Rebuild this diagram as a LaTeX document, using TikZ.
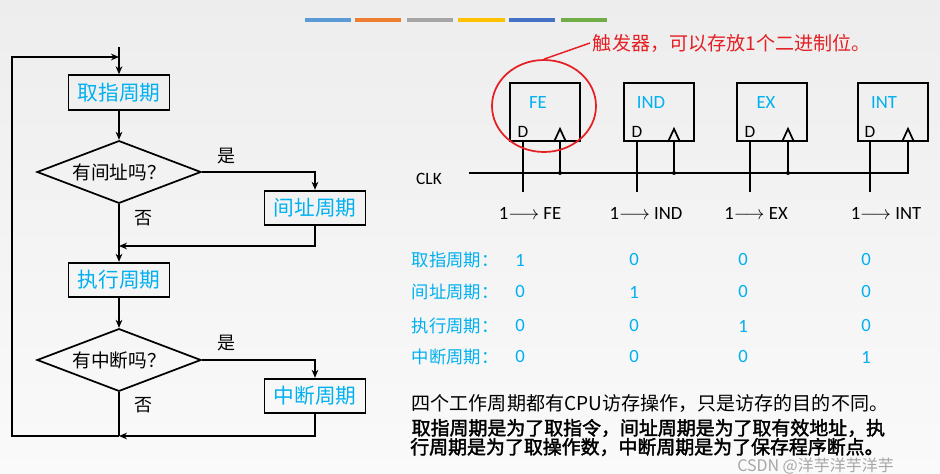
\documentclass[tikz,border=0pt]{standalone}
\usepackage{fontspec}
\setmainfont{Carlito}
\newfontfamily\cjk{Noto Sans CJK SC}
\newfontfamily\cjkbold[FakeBold=2]{Noto Sans CJK SC}
\usetikzlibrary{shapes.geometric,arrows.meta}
\definecolor{cyantext}{RGB}{0,176,240}
\definecolor{notered}{RGB}{228,32,36}
\definecolor{barA}{RGB}{91,155,213}
\definecolor{barB}{RGB}{237,125,49}
\definecolor{barC}{RGB}{165,165,165}
\definecolor{barD}{RGB}{255,192,0}
\definecolor{barE}{RGB}{68,114,196}
\definecolor{barF}{RGB}{112,173,71}
\newcommand\fsz[1]{\fontsize{#1}{#1}\selectfont}

\begin{document}
\begin{tikzpicture}[x=0.75pt,y=-0.75pt,>={Stealth[length=6pt,width=5pt]},
cyclebox/.style={draw, line width=1.3pt, minimum width=75.75pt, minimum height=26pt, inner sep=0pt, text=cyantext, font=\cjk\fsz{15.5}},
query/.style={diamond, aspect=2.6, draw, line width=1.3pt, minimum width=123pt, minimum height=47pt, inner sep=0pt, font=\cjk\fsz{14}},
yesno/.style={font=\cjk\fsz{13.5}},
flipflop/.style={draw, line width=1.3pt, minimum width=52.5pt, minimum height=43.5pt, inner sep=0pt},
ffname/.style={text=cyantext, font=\fsz{14}},
pin/.style={font=\fsz{13}},
rowname/.style={anchor=west, text=cyantext, font=\cjk\fsz{13}},
bitval/.style={text=cyantext, font=\fsz{14}},
bar/.style={line width=3pt}
]
\useasboundingbox (0,0) rectangle (940,474);
\shade [top color=black!7, bottom color=black!2] (0,0) rectangle (940,474);

% colour bars
\draw [bar,barA] (305,20) -- (351,20);
\draw [bar,barB] (355,20) -- (401,20);
\draw [bar,barC] (407,20) -- (453,20);
\draw [bar,barD] (458,20) -- (505,20);
\draw [bar,barE] (509,20) -- (555,20);
\draw [bar,barF] (561,20) -- (607,20);

% flow chart
\begin{scope}[line width=1.3pt]
\node [cyclebox] (fetch) at (119,92.5) {取指周期};
\node [query] (indq) at (119,172) {有间址吗？};
\node [cyclebox] (indc) at (315,208) {间址周期};
\node [cyclebox] (exec) at (119,280) {执行周期};
\node [query] (intq) at (119,360) {有中断吗？};
\node [cyclebox] (intc) at (315,396) {中断周期};
\node [yesno] (yes1) at (226,156) {是};
\node [yesno] (no1) at (143,218) {否};
\node [yesno] (yes2) at (226,343) {是};
\node [yesno] (no2) at (143,405) {否};
\coordinate (entry) at (119,47);
\coordinate (back) at (119,57);
\coordinate (join1) at (119,246);
\coordinate (join2) at (119,436);
\coordinate (loopb) at (12,436);
\coordinate (loopt) at (12,57);
\draw [->] (entry) -- (fetch);
\draw [->] (fetch) -- (indq);
\draw [->] (indq.east) -| (indc.north);
\draw [->] (indq) -- (exec);
\draw [->] (indc.south) |- (join1);
\draw [->] (exec) -- (intq);
\draw [->] (intq.east) -| (intc.north);
\draw (intq.south) -- (join2);
\draw [->] (intc.south) |- (join2);
\draw [->] (join2) -- (loopb) -- (loopt) -- (back);
\end{scope}

% flip-flops
\begin{scope}[line width=1.3pt]
\node [flipflop] (fe) at (545,112) {};
\node [flipflop] (ind) at (659,112) {};
\node [flipflop] (ex) at (772,112) {};
\node [flipflop] (int) at (893,112) {};
\node [ffname] (fename) at (538,103) {FE};
\node [ffname] (indname) at (651,103) {IND};
\node [ffname] (exname) at (766,103) {EX};
\node [ffname] (intname) at (884,103) {INT};
\node [pin] (fed) at (523,132) {D};
\node [pin] (indd) at (637,132) {D};
\node [pin] (exd) at (750,132) {D};
\node [pin] (intd) at (870,132) {D};
\coordinate (fein) at (523,192);
\coordinate (indin) at (637,192);
\coordinate (exin) at (750,192);
\coordinate (intin) at (870,192);
\coordinate (feck) at (560,173);
\coordinate (indck) at (674,173);
\coordinate (exck) at (788,173);
\coordinate (intck) at (908,173);
\coordinate (clkstart) at (469,173);
\node [pin] (clk) at (429,179) {CLK};
\draw (fe.south -| fein) -- (fein);
\draw (ind.south -| indin) -- (indin);
\draw (ex.south -| exin) -- (exin);
\draw (int.south -| intin) -- (intin);
\draw (clkstart) -- (intck) -- (intck |- int.south);
\draw (feck) -- (feck |- fe.south);
\draw (indck) -- (indck |- ind.south);
\draw (exck) -- (exck |- ex.south);
\draw (feck |- fe.south) ++(-6,0) -- ++(6,-13) -- ++(6,13);
\draw (indck |- ind.south) ++(-6,0) -- ++(6,-13) -- ++(6,13);
\draw (exck |- ex.south) ++(-6,0) -- ++(6,-13) -- ++(6,13);
\draw (intck |- int.south) ++(-6,0) -- ++(6,-13) -- ++(6,13);
\fill (feck) circle (2);
\fill (indck) circle (2);
\fill (exck) circle (2);
\end{scope}
\node [pin,font=\fsz{14}] (feset) at (530,213) {1$\longrightarrow$ FE};
\node [pin,font=\fsz{14}] (indset) at (646,213) {1$\longrightarrow$ IND};
\node [pin,font=\fsz{14}] (exset) at (756,213) {1$\longrightarrow$ EX};
\node [pin,font=\fsz{14}] (intset) at (886,213) {1$\longrightarrow$ INT};

% note on the trigger
\node [ellipse, draw=notered, line width=1.3pt, minimum width=78pt, minimum height=69pt] (ring) at (544,106) {};
\node [anchor=west, inner sep=2pt, text=notered, font=\cjk\fsz{14.3}] (note) at (590,43) {触发器，可以存放1个二进制位。};
\draw [notered, line width=1.1pt] (note.west) -- (ring.north);

% table of states
\node [rowname] (r1) at (407,260) {取指周期：};
\node [rowname] (r2) at (407,292) {间址周期：};
\node [rowname] (r3) at (407,326) {执行周期：};
\node [rowname] (r4) at (407,357) {中断周期：};
\node [bitval] (v11) at (520,260) {1};
\node [bitval] (v12) at (634,260) {0};
\node [bitval] (v13) at (743,260) {0};
\node [bitval] (v14) at (866,260) {0};
\node [bitval] (v21) at (520,292) {0};
\node [bitval] (v22) at (634,292) {1};
\node [bitval] (v23) at (743,292) {0};
\node [bitval] (v24) at (866,292) {0};
\node [bitval] (v31) at (520,326) {0};
\node [bitval] (v32) at (634,326) {0};
\node [bitval] (v33) at (743,326) {1};
\node [bitval] (v34) at (866,326) {0};
\node [bitval] (v41) at (520,357) {0};
\node [bitval] (v42) at (634,357) {0};
\node [bitval] (v43) at (743,357) {0};
\node [bitval] (v44) at (866,357) {1};

% remarks
\node [anchor=west, font=\cjk\fsz{14.3}] (line1) at (407,403) {四个工作周期都有CPU访存操作，只是访存的目的不同。};
\node [anchor=west, font=\cjkbold\fsz{14.2}] (line2) at (407,428) {取指周期是为了取指令，间址周期是为了取有效地址，执};
\node [anchor=west, inner sep=0pt, font=\cjkbold\fsz{14.2}] (line3) at (410,447) {行周期是为了取操作数，中断周期是为了保存程序断点。};
\node [anchor=west, inner sep=0pt, text=black!35, font=\cjk\fsz{12}] (mark) at (737,466) {CSDN @洋芋洋芋洋芋};
\end{tikzpicture}
\end{document}
